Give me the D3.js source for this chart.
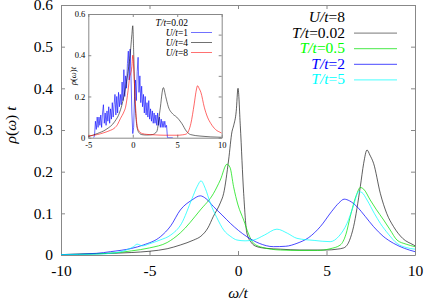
<!DOCTYPE html>
<html>
<head>
<meta charset="utf-8">
<script src="https://cdn.jsdelivr.net/npm/d3@7"></script>
<style>
body { margin: 0; background: #fff; }
</style>
</head>
<body>
<div class="chart"></div>
<script>
var width = 428,
  height = 300,
  serif = 'Liberation Serif'

// main panel, U/t=8
var omegaT002 = [-10, -8, -6, -5, -4, -3.26, -2.5, -2.1, -1.7, -1.4, -1, -0.81, -0.53, -0.34, -0.25, -0.1, 0, 0.13, 0.32, 0.5, 0.75, 1.07, 1.6, 2.39, 3.5, 5, 5.6, 5.97, 6.3, 6.53, 6.91, 7.1, 7.29, 7.45, 7.66, 8.04, 8.4, 8.79, 9.3, 9.92, 10]
var rhoT002 = [0.001, 0.003, 0.006, 0.009, 0.015, 0.024, 0.036, 0.045, 0.065, 0.092, 0.125, 0.148, 0.228, 0.296, 0.31, 0.345, 0.40, 0.31, 0.148, 0.053, 0.03, 0.02, 0.016, 0.014, 0.012, 0.012, 0.014, 0.017, 0.035, 0.068, 0.164, 0.22, 0.252, 0.24, 0.22, 0.148, 0.1, 0.068, 0.04, 0.024, 0.022]

var omegaT05 = [-10, -8, -7, -6, -5, -4, -3.26, -2.13, -1.38, -1, -0.62, -0.45, -0.25, 0, 0.32, 0.6, 0.88, 1.4, 2.39, 3.5, 4.5, 5.2, 5.78, 6.1, 6.34, 6.7, 6.91, 7.1, 7.47, 7.8, 8.23, 8.6, 8.98, 9.5, 10]
var rhoT05 = [0.001, 0.003, 0.005, 0.01, 0.017, 0.03, 0.053, 0.108, 0.148, 0.18, 0.218, 0.21, 0.164, 0.12, 0.084, 0.05, 0.028, 0.018, 0.012, 0.011, 0.011, 0.015, 0.024, 0.05, 0.092, 0.145, 0.162, 0.158, 0.132, 0.11, 0.084, 0.06, 0.036, 0.026, 0.02]

var omegaT2 = [-10, -8, -7.2, -6, -5.35, -4.38, -3.8, -3.26, -2.6, -2.13, -1.8, -1.38, -0.9, -0.43, 0.5, 1.2, 2, 2.7, 3.33, 4, 4.65, 5.3, 5.7, 6, 6.3, 6.72, 7.2, 7.66, 8.2, 8.79, 9.4, 10]
var rhoT2 = [0.001, 0.004, 0.008, 0.016, 0.024, 0.044, 0.07, 0.108, 0.132, 0.142, 0.135, 0.116, 0.096, 0.076, 0.044, 0.028, 0.02, 0.021, 0.028, 0.042, 0.068, 0.105, 0.125, 0.134, 0.13, 0.116, 0.092, 0.068, 0.045, 0.028, 0.016, 0.008]

var omegaT5 = [-10, -8, -7, -6.3, -5.9, -5.7, -5.4, -5, -4.4, -3.8, -3.2, -2.6, -2.3, -2.09, -1.85, -1.56, -1.2, -0.81, -0.4, -0.06, 0.4, 0.88, 1.5, 2.2, 2.8, 3.33, 4.3, 5.21, 5.7, 6.16, 6.5, 6.82, 7, 7.29, 7.7, 8.04, 8.5, 8.98, 9.5, 10]
var rhoT5 = [0.001, 0.002, 0.005, 0.012, 0.02, 0.026, 0.022, 0.027, 0.036, 0.048, 0.075, 0.135, 0.165, 0.178, 0.16, 0.124, 0.09, 0.06, 0.044, 0.036, 0.034, 0.036, 0.048, 0.062, 0.052, 0.04, 0.035, 0.032, 0.045, 0.076, 0.115, 0.152, 0.15, 0.132, 0.1, 0.076, 0.05, 0.028, 0.018, 0.014]

// inset, T/t=0.02
var omegaU1 = [-4.4, -4.3, -4.2, -4.1, -4.0, -3.9, -3.8, -3.7, -3.6, -3.5, -3.4, -3.3, -3.2, -3.1, -3.0, -2.9, -2.8, -2.7, -2.6, -2.5, -2.4, -2.3, -2.2, -2.1, -2.0, -1.9, -1.8, -1.7, -1.6, -1.5, -1.4, -1.3, -1.2, -1.1, -1.0, -0.9, -0.8, -0.7, -0.6, -0.5, -0.4, -0.3, -0.2, -0.1, 0.0, 0.1, 0.2, 0.3, 0.4, 0.5, 0.6, 0.7, 0.8, 0.9, 1.0, 1.1, 1.2, 1.3, 1.4, 1.5, 1.6, 1.7, 1.8, 1.9, 2.0, 2.1, 2.2, 2.3, 2.4, 2.5, 2.6, 2.7, 2.8, 2.9, 3.0, 3.1, 3.2, 3.3, 3.4, 3.5, 3.6, 3.7, 3.8, 3.9, 4.5]
var rhoU1 = [0, 0.01, 0.08, 0.04, 0.1, 0.05, 0.1, 0.06, 0.11, 0.05, 0.12, 0.16, 0.07, 0.12, 0.06, 0.13, 0.08, 0.15, 0.07, 0.14, 0.09, 0.17, 0.1, 0.16, 0.21, 0.11, 0.2, 0.12, 0.22, 0.15, 0.21, 0.16, 0.27, 0.18, 0.33, 0.2, 0.3, 0.24, 0.36, 0.42, 0.28, 0.43, 0.3, 0.12, 0.02, 0.05, 0.2, 0.28, 0.18, 0.32, 0.39, 0.22, 0.3, 0.17, 0.25, 0.15, 0.21, 0.12, 0.2, 0.11, 0.17, 0.1, 0.18, 0.09, 0.14, 0.08, 0.13, 0.07, 0.12, 0.07, 0.11, 0.06, 0.12, 0.06, 0.1, 0.05, 0.09, 0.05, 0.08, 0.05, 0.08, 0.05, 0.06, 0.0, 0.0]

var omegaU4 = [-5, -4, -3, -2, -1.5, -1, -0.6, -0.3, -0.1, 0, 0.1, 0.25, 0.4, 0.62, 1, 1.56, 2.2, 2.7, 3.06, 3.44, 3.7, 4, 4.5, 4.94, 5.5, 6.06, 6.5, 7.56, 10]
var rhoU4 = [0.005, 0.02, 0.04, 0.08, 0.12, 0.2, 0.3, 0.4, 0.5, 0.543, 0.42, 0.18, 0.08, 0.03, 0.015, 0.013, 0.015, 0.03, 0.133, 0.243, 0.2, 0.15, 0.115, 0.1, 0.07, 0.03, 0.015, 0.008, 0.002]

var xTicks = [-10, -5, 0, 5, 10]
var yTicks = [0, 0.1, 0.2, 0.3, 0.4, 0.5, 0.6]
var insetXTicks = [-5, 0, 5, 10]
var insetYTicks = [0, 0.2, 0.4, 0.6]

var mainSeries = [
  {name: 'T/t', val: '=0.02', color: '#000000', textColor: '#000000', x: omegaT002, y: rhoT002},
  {name: 'T/t', val: '=0.5', color: '#00e000', textColor: '#00ff00', x: omegaT05, y: rhoT05},
  {name: 'T/t', val: '=2', color: '#0000ff', textColor: '#0000ff', x: omegaT2, y: rhoT2},
  {name: 'T/t', val: '=5', color: '#00ffff', textColor: '#00ffff', x: omegaT5, y: rhoT5}
]
var insetSeries = [
  {name: 'U/t', val: '=1', color: '#0000ff', x: omegaU1, y: rhoU1, curve: d3.curveLinear},
  {name: 'U/t', val: '=4', color: '#000000', x: omegaU4, y: rhoU4, curve: d3.curveMonotoneX},
  {name: 'U/t', val: '=8', color: '#ff0000', x: omegaT002, y: rhoT002, curve: d3.curveMonotoneX}
]

var svg = d3.select('.chart')
  .append('svg')
  .attr('width', width)
  .attr('height', height)
  .attr('font-family', serif)

var frameColor = '#888'
var mainFont = 15.5

// MAIN SCALES
var xScale = d3.scaleLinear().domain([-10, 10]).range([61, 415])
var yScale = d3.scaleLinear().domain([0, 0.6]).range([255, 5])

function styleAxis(g, labels, size) {
  g.attr('font-family', serif)
  g.select('.domain').attr('stroke', frameColor)
  g.selectAll('.tick line').attr('stroke', frameColor)
  if (!labels) g.selectAll('.tick text').remove()
  else g.selectAll('.tick text').attr('font-size', size).attr('font-family', serif).attr('fill', '#000')
}
var fmt = function(d) { return d === 0 ? '0' : d3.format('.1f')(d) }
var intFmt = function(d) { return String(d) } // plain hyphen like the original

svg.append('g')
  .attr('transform', 'translate(0,' + yScale(0) + ')')
  .call(d3.axisBottom(xScale).tickValues(xTicks).tickSize(-4).tickSizeOuter(0).tickPadding(10).tickFormat(intFmt))
  .call(styleAxis, true, mainFont)
svg.append('g')
  .attr('transform', 'translate(0,' + yScale(0.6) + ')')
  .call(d3.axisTop(xScale).tickValues(xTicks).tickSize(-4).tickSizeOuter(0))
  .call(styleAxis, false)
svg.append('g')
  .attr('transform', 'translate(' + xScale(-10) + ',0)')
  .call(d3.axisLeft(yScale).tickValues(yTicks).tickSize(-4).tickSizeOuter(0).tickPadding(8).tickFormat(fmt))
  .call(styleAxis, true, mainFont)
svg.append('g')
  .attr('transform', 'translate(' + xScale(10) + ',0)')
  .call(d3.axisRight(yScale).tickValues(yTicks).tickSize(-4).tickSizeOuter(0))
  .call(styleAxis, false)

// MAIN CURVES
var line = d3.line()
  .x(function(d) { return xScale(d[0]) })
  .y(function(d) { return yScale(d[1]) })
  .curve(d3.curveMonotoneX)

svg.append('defs').append('clipPath').attr('id', 'mainclip')
  .append('rect').attr('x', xScale(-10)).attr('y', yScale(0.6))
  .attr('width', xScale(10) - xScale(-10)).attr('height', yScale(0) - yScale(0.6))

svg.append('g').attr('clip-path', 'url(#mainclip)')
  .selectAll('path')
  .data(mainSeries)
  .enter()
  .append('path')
  .attr('d', function(s) { return line(s.x.map(function(v, i) { return [v, s.y[i]] })) })
  .attr('fill', 'none')
  .attr('stroke', function(s) { return s.color })
  .attr('stroke-width', 0.9)
  .attr('stroke-opacity', function(s, i) { return i === 0 ? 0.7 : 0.8 })

// axis labels
svg.append('text')
  .attr('x', xScale(0)).attr('y', 298)
  .attr('text-anchor', 'middle').attr('font-size', mainFont).attr('font-style', 'italic')
  .attr('font-family', serif)
  .text('ω/t')
var ylab = svg.append('text')
  .attr('transform', 'translate(16,125) rotate(-90)')
  .attr('text-anchor', 'middle').attr('font-size', mainFont).attr('font-family', serif)
ylab.append('tspan').attr('font-style', 'italic').text('ρ')
ylab.append('tspan').text('(')
ylab.append('tspan').attr('font-style', 'italic').text('ω')
ylab.append('tspan').text(') ')
ylab.append('tspan').attr('font-style', 'italic').text('t')

// MAIN LEGEND
var legX = 345, legY0 = 22, legDy = 15.6
var head = svg.append('text').attr('x', legX).attr('y', legY0).attr('text-anchor', 'end').attr('font-size', mainFont).attr('font-family', serif)
head.append('tspan').attr('font-style', 'italic').text('U/t')
head.append('tspan').text('=8')
mainSeries.forEach(function(s, i) {
  var yy = legY0 + legDy * (i + 1)
  var t = svg.append('text').attr('x', legX).attr('y', yy).attr('text-anchor', 'end').attr('font-size', mainFont).attr('font-family', serif).attr('fill', s.textColor)
  t.append('tspan').attr('font-style', 'italic').text(s.name)
  t.append('tspan').text(s.val)
  svg.append('line')
    .attr('x1', 354).attr('x2', 397).attr('y1', yy - 4.5).attr('y2', yy - 4.5)
    .attr('stroke', s.color).attr('stroke-width', 0.9).attr('stroke-opacity', i === 0 ? 0.6 : 0.8)
})

// INSET
var ixScale = d3.scaleLinear().domain([-5, 10]).range([88.3, 221.7])
var iyScale = d3.scaleLinear().domain([0, 0.6]).range([137.7, 14])

svg.append('rect')
  .attr('x', ixScale(-5)).attr('y', iyScale(0.6))
  .attr('width', ixScale(10) - ixScale(-5)).attr('height', iyScale(0) - iyScale(0.6))
  .attr('fill', '#fff')

svg.append('g')
  .attr('transform', 'translate(0,' + iyScale(0) + ')')
  .call(d3.axisBottom(ixScale).tickValues(insetXTicks).tickSize(-3).tickSizeOuter(0).tickPadding(4).tickFormat(intFmt))
  .call(styleAxis, true, 8.5)
svg.append('g')
  .attr('transform', 'translate(0,' + iyScale(0.6) + ')')
  .call(d3.axisTop(ixScale).tickValues(insetXTicks).tickSize(-3).tickSizeOuter(0))
  .call(styleAxis, false)
svg.append('g')
  .attr('transform', 'translate(' + ixScale(-5) + ',0)')
  .call(d3.axisLeft(iyScale).tickValues(insetYTicks).tickSize(-3).tickSizeOuter(0).tickPadding(3).tickFormat(fmt))
  .call(styleAxis, true, 8.5)
svg.append('g')
  .attr('transform', 'translate(' + ixScale(10) + ',0)')
  .call(d3.axisRight(iyScale).ticks(6).tickSize(-3).tickSizeOuter(0))
  .call(styleAxis, false)

svg.append('defs').append('clipPath').attr('id', 'insetclip')
  .append('rect').attr('x', ixScale(-5)).attr('y', iyScale(0.6))
  .attr('width', ixScale(10) - ixScale(-5)).attr('height', iyScale(0) - iyScale(0.6))

var iline = function(s) {
  return d3.line()
    .x(function(d) { return ixScale(d[0]) })
    .y(function(d) { return iyScale(d[1]) })
    .curve(s.curve)(s.x.map(function(v, i) { return [v, s.y[i]] }))
}
svg.append('g').attr('clip-path', 'url(#insetclip)')
  .selectAll('path')
  .data(insetSeries)
  .enter()
  .append('path')
  .attr('d', iline)
  .attr('fill', 'none')
  .attr('stroke', function(s) { return s.color })
  .attr('stroke-width', 0.8)
  .attr('stroke-opacity', function(s, i) { return i === 1 ? 0.7 : 0.75 })

var iylab = svg.append('text')
  .attr('transform', 'translate(76,76) rotate(-90)')
  .attr('text-anchor', 'middle').attr('font-size', 8.5).attr('font-family', serif)
iylab.append('tspan').attr('font-style', 'italic').text('ρ')
iylab.append('tspan').text('(')
iylab.append('tspan').attr('font-style', 'italic').text('ω')
iylab.append('tspan').text(')')
iylab.append('tspan').attr('font-style', 'italic').text('t')

// inset legend
var ilx = 188
var ih = svg.append('text').attr('x', ilx).attr('y', 26).attr('text-anchor', 'end').attr('font-size', 9.5).attr('font-family', serif)
ih.append('tspan').attr('font-style', 'italic').text('T/t')
ih.append('tspan').text('=0.02')
insetSeries.forEach(function(s, i) {
  var yy = 35.5 + 10 * i
  var t = svg.append('text').attr('x', ilx).attr('y', yy).attr('text-anchor', 'end').attr('font-size', 9.5).attr('font-family', serif)
  t.append('tspan').attr('font-style', 'italic').text(s.name)
  t.append('tspan').text(s.val)
  svg.append('line')
    .attr('x1', 191).attr('x2', 212).attr('y1', yy - 3).attr('y2', yy - 3)
    .attr('stroke', s.color).attr('stroke-width', 0.8).attr('stroke-opacity', 0.7)
})
</script>
</body>
</html>
